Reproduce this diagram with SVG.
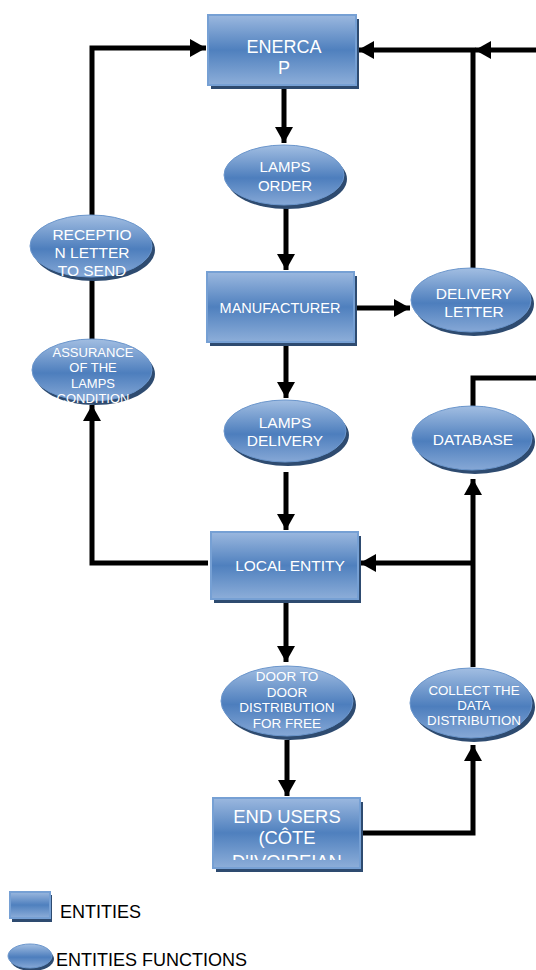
<svg xmlns="http://www.w3.org/2000/svg" width="536" height="970" viewBox="0 0 536 970">
<defs>
<linearGradient id="gbox" x1="0" y1="0" x2="0" y2="1">
<stop offset="0" stop-color="#9bb8df"/>
<stop offset="0.5" stop-color="#4f80be"/>
<stop offset="1" stop-color="#8daed9"/>
</linearGradient>
<linearGradient id="gell" x1="0" y1="0" x2="0" y2="1">
<stop offset="0" stop-color="#a2bee2"/>
<stop offset="0.55" stop-color="#4d7ebd"/>
<stop offset="1" stop-color="#86a8d6"/>
</linearGradient>
<marker id="ah" markerUnits="userSpaceOnUse" markerWidth="18" markerHeight="20" refX="16" refY="10" orient="auto">
<path d="M0,1 L16,10 L0,19 Z" fill="#000"/>
</marker>
<clipPath id="cu"><rect x="214" y="799" width="145" height="61"/></clipPath>
</defs>
<style>
.bx{fill:url(#gbox);stroke:#76a0d4;stroke-width:2}
.sh{fill:#2e4b70}
.el{fill:url(#gell);stroke:#6b96cc;stroke-width:1}
.t{fill:#fff;font-family:"Liberation Sans",Arial,sans-serif;text-anchor:middle}
.c{fill:none;stroke:#000;stroke-width:5}
.lg{fill:#000;font-family:"Liberation Sans",Arial,sans-serif;font-size:18px}
</style>
<rect width="536" height="970" fill="#fff"/>
<g id="connectors">
<path class="c" d="M92,215 V48 H206" marker-end="url(#ah)"/>
<path class="c" d="M92,278 V340"/>
<path class="c" d="M208,563 H92 V405" marker-end="url(#ah)"/>
<path class="c" d="M473,268 V50 H358" marker-end="url(#ah)"/>
<path class="c" d="M536,50 H475" marker-end="url(#ah)"/>
<path class="c" d="M284,86 V143" marker-end="url(#ah)"/>
<path class="c" d="M286,206 V270" marker-end="url(#ah)"/>
<path class="c" d="M355,308 H410" marker-end="url(#ah)"/>
<path class="c" d="M286,346 V398" marker-end="url(#ah)"/>
<path class="c" d="M473,406 V378 H536"/>
<path class="c" d="M286,472 V530" marker-end="url(#ah)"/>
<path class="c" d="M473,667 V479" marker-end="url(#ah)"/>
<path class="c" d="M473,563 H360" marker-end="url(#ah)"/>
<path class="c" d="M286,603 V662" marker-end="url(#ah)"/>
<path class="c" d="M287,740 V796" marker-end="url(#ah)"/>
<path class="c" d="M360,833 H473 V745" marker-end="url(#ah)"/>
</g>
<g id="enercap">
<rect class="sh" x="211" y="19" width="148" height="70"/>
<rect class="bx" x="208" y="15" width="148" height="70"/>
<text class="t" font-size="18" x="284" y="53">ENERCA</text>
<text class="t" font-size="18" x="284" y="74">P</text>
</g>
<g id="lamps-order">
<ellipse class="sh" cx="287" cy="179" rx="60" ry="30"/>
<ellipse class="el" cx="284" cy="175" rx="60" ry="30"/>
<text class="t" font-size="15" x="285" y="172">LAMPS</text>
<text class="t" font-size="15" x="285" y="191">ORDER</text>
</g>
<g id="reception">
<ellipse class="sh" cx="94" cy="250" rx="61" ry="31"/>
<ellipse class="el" cx="91" cy="246" rx="61" ry="31"/>
<text class="t" font-size="15.5" x="92" y="240">RECEPTIO</text>
<text class="t" font-size="15.5" x="92" y="258">N  LETTER</text>
<text class="t" font-size="15.5" x="92" y="276">TO SEND</text>
</g>
<g id="assurance">
<ellipse class="sh" cx="95" cy="374" rx="60" ry="31"/>
<ellipse class="el" cx="92" cy="370" rx="60" ry="31"/>
<text class="t" font-size="13" x="93" y="357">ASSURANCE</text>
<text class="t" font-size="13" x="93" y="372">OF THE</text>
<text class="t" font-size="13" x="93" y="388">LAMPS</text>
<text class="t" font-size="13" x="93" y="403">CONDITION</text>
</g>
<g id="manufacturer">
<rect class="sh" x="210" y="276" width="147" height="70"/>
<rect class="bx" x="207" y="272" width="147" height="70"/>
<text class="t" font-size="14.5" x="280" y="313">MANUFACTURER</text>
</g>
<g id="delivery-letter">
<ellipse class="sh" cx="474" cy="304" rx="60" ry="32"/>
<ellipse class="el" cx="471" cy="300" rx="60" ry="32"/>
<text class="t" font-size="15.5" x="474" y="299">DELIVERY</text>
<text class="t" font-size="15.5" x="474" y="317">LETTER</text>
</g>
<g id="lamps-delivery">
<ellipse class="sh" cx="288" cy="435" rx="61" ry="31"/>
<ellipse class="el" cx="285" cy="431" rx="61" ry="31"/>
<text class="t" font-size="15.5" x="285" y="428">LAMPS</text>
<text class="t" font-size="15.5" x="285" y="446">DELIVERY</text>
</g>
<g id="database">
<ellipse class="sh" cx="475" cy="442" rx="60" ry="32"/>
<ellipse class="el" cx="472" cy="438" rx="60" ry="32"/>
<text class="t" font-size="15.5" x="473" y="445">DATABASE</text>
</g>
<g id="local-entity">
<rect class="sh" x="214" y="536" width="147" height="67"/>
<rect class="bx" x="211" y="532" width="147" height="67"/>
<text class="t" font-size="15.5" x="290" y="571">LOCAL ENTITY</text>
</g>
<g id="door-to-door">
<ellipse class="sh" cx="290" cy="705" rx="66" ry="35"/>
<ellipse class="el" cx="287" cy="701" rx="66" ry="35"/>
<text class="t" font-size="13.5" x="287" y="681">DOOR TO</text>
<text class="t" font-size="13.5" x="287" y="697">DOOR</text>
<text class="t" font-size="13.5" x="287" y="712">DISTRIBUTION</text>
<text class="t" font-size="13.5" x="287" y="728">FOR FREE</text>
</g>
<g id="collect">
<ellipse class="sh" cx="474" cy="707" rx="61" ry="35"/>
<ellipse class="el" cx="471" cy="703" rx="61" ry="35"/>
<text class="t" font-size="13.3" x="474" y="695">COLLECT THE</text>
<text class="t" font-size="13.3" x="474" y="710">DATA</text>
<text class="t" font-size="13.3" x="474" y="725">DISTRIBUTION</text>
</g>
<g id="end-users">
<rect class="sh" x="216" y="802" width="147" height="70"/>
<rect class="bx" x="213" y="798" width="147" height="70"/>
<g clip-path="url(#cu)">
<text class="t" font-size="18.4" x="287" y="823">END USERS</text>
<text class="t" font-size="18.4" x="287" y="844">(CÔTE</text>
<text class="t" font-size="18.4" x="287" y="868">D'IVOIREIAN</text>
</g>
</g>
<g id="legend">
<rect class="sh" x="12" y="895" width="40" height="27"/>
<rect class="bx" x="10" y="892" width="40" height="26" stroke-width="1"/>
<text class="lg" x="60" y="918">ENTITIES</text>
<ellipse class="sh" cx="32" cy="959" rx="22" ry="12"/>
<ellipse class="el" cx="30" cy="956" rx="22" ry="12"/>
<text class="lg" x="56" y="966">ENTITIES FUNCTIONS</text>
</g>
</svg>
